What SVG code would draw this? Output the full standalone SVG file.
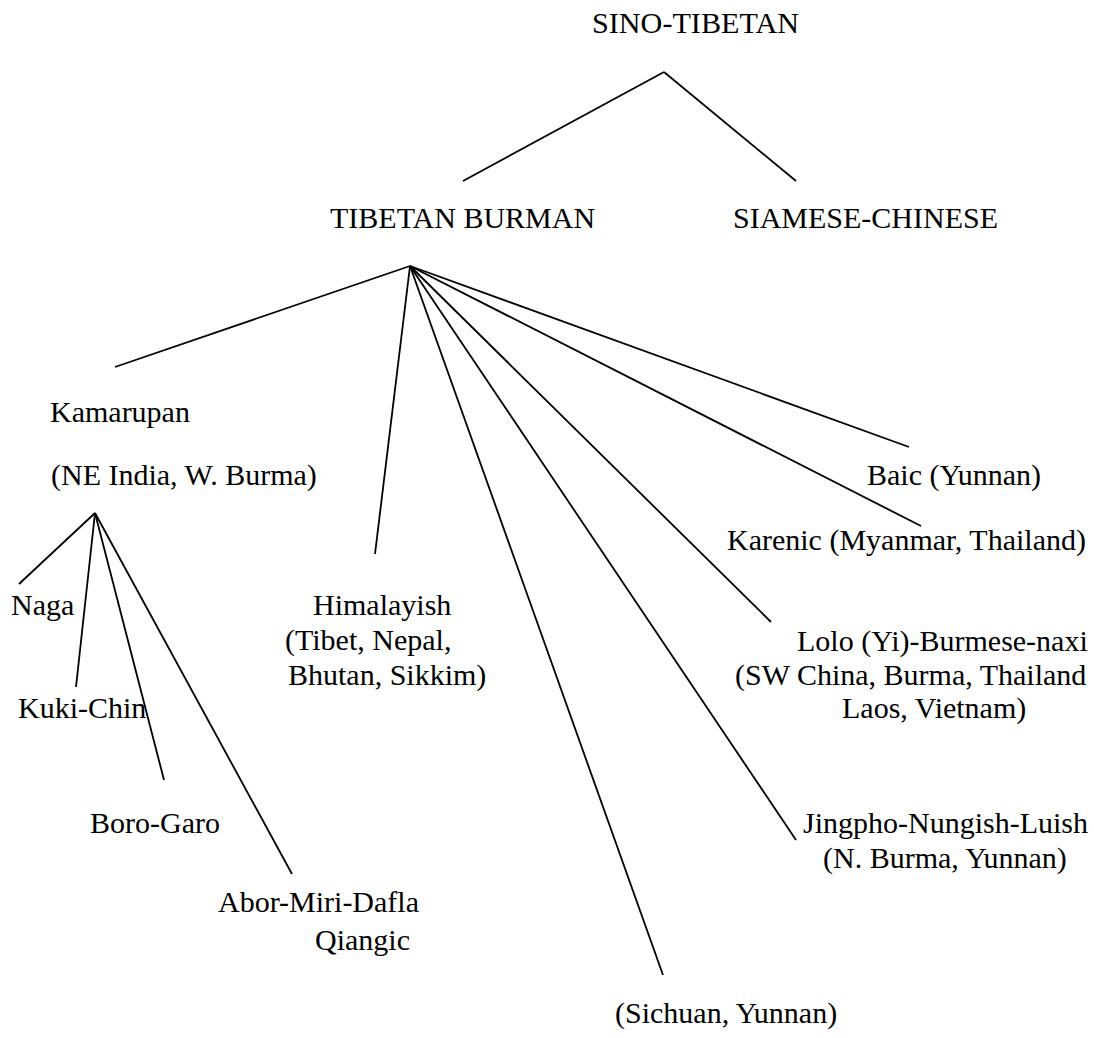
<svg xmlns="http://www.w3.org/2000/svg" width="1094" height="1038" viewBox="0 0 1094 1038">
<style>
text{font-family:"Liberation Serif","Times New Roman",serif;font-size:30px;fill:#000}
.c line{stroke:#000;stroke-width:1.8;stroke-linecap:butt}
</style>
<rect width="1094" height="1038" fill="#fff"/>
<g class="c" id="connectors">
<line x1="664" y1="72" x2="463" y2="181"/>
<line x1="664" y1="72" x2="796" y2="181"/>
<line x1="410" y1="266" x2="115" y2="367"/>
<line x1="410" y1="266" x2="375" y2="554"/>
<line x1="410" y1="266" x2="663" y2="975"/>
<line x1="410" y1="266" x2="796" y2="840"/>
<line x1="410" y1="266" x2="771" y2="622"/>
<line x1="410" y1="266" x2="921" y2="526"/>
<line x1="410" y1="266" x2="909" y2="447"/>
<line x1="95" y1="513" x2="19" y2="584"/>
<line x1="95" y1="513" x2="76" y2="687"/>
<line x1="95" y1="513" x2="164" y2="780"/>
<line x1="95" y1="513" x2="292" y2="874"/>
</g>
<g id="sino-tibetan"><text x="592" y="33" textLength="207" lengthAdjust="spacingAndGlyphs">SINO-TIBETAN</text></g>
<g id="tibetan-burman"><text x="330" y="228">TIBETAN BURMAN</text></g>
<g id="siamese-chinese"><text x="733" y="228">SIAMESE-CHINESE</text></g>
<g id="kamarupan"><text x="50" y="422">Kamarupan</text><text x="51" y="485">(NE India, W. Burma)</text></g>
<g id="naga"><text x="11" y="615">Naga</text></g>
<g id="kuki-chin"><text x="18" y="718">Kuki-Chin</text></g>
<g id="boro-garo"><text x="90" y="833">Boro-Garo</text></g>
<g id="abor-miri-dafla"><text x="218" y="912">Abor-Miri-Dafla</text></g>
<g id="qiangic"><text x="315" y="950">Qiangic</text><text x="615" y="1023">(Sichuan, Yunnan)</text></g>
<g id="himalayish"><text x="313" y="615">Himalayish</text><text x="285" y="650">(Tibet, Nepal,</text><text x="288" y="685">Bhutan, Sikkim)</text></g>
<g id="baic"><text x="867" y="485">Baic (Yunnan)</text></g>
<g id="karenic"><text x="727" y="550">Karenic (Myanmar, Thailand)</text></g>
<g id="lolo"><text x="797" y="651">Lolo (Yi)-Burmese-naxi</text><text x="735" y="685">(SW China, Burma, Thailand</text><text x="842" y="718">Laos, Vietnam)</text></g>
<g id="jingpho"><text x="803" y="833">Jingpho-Nungish-Luish</text><text x="823" y="868">(N. Burma, Yunnan)</text></g>
</svg>
